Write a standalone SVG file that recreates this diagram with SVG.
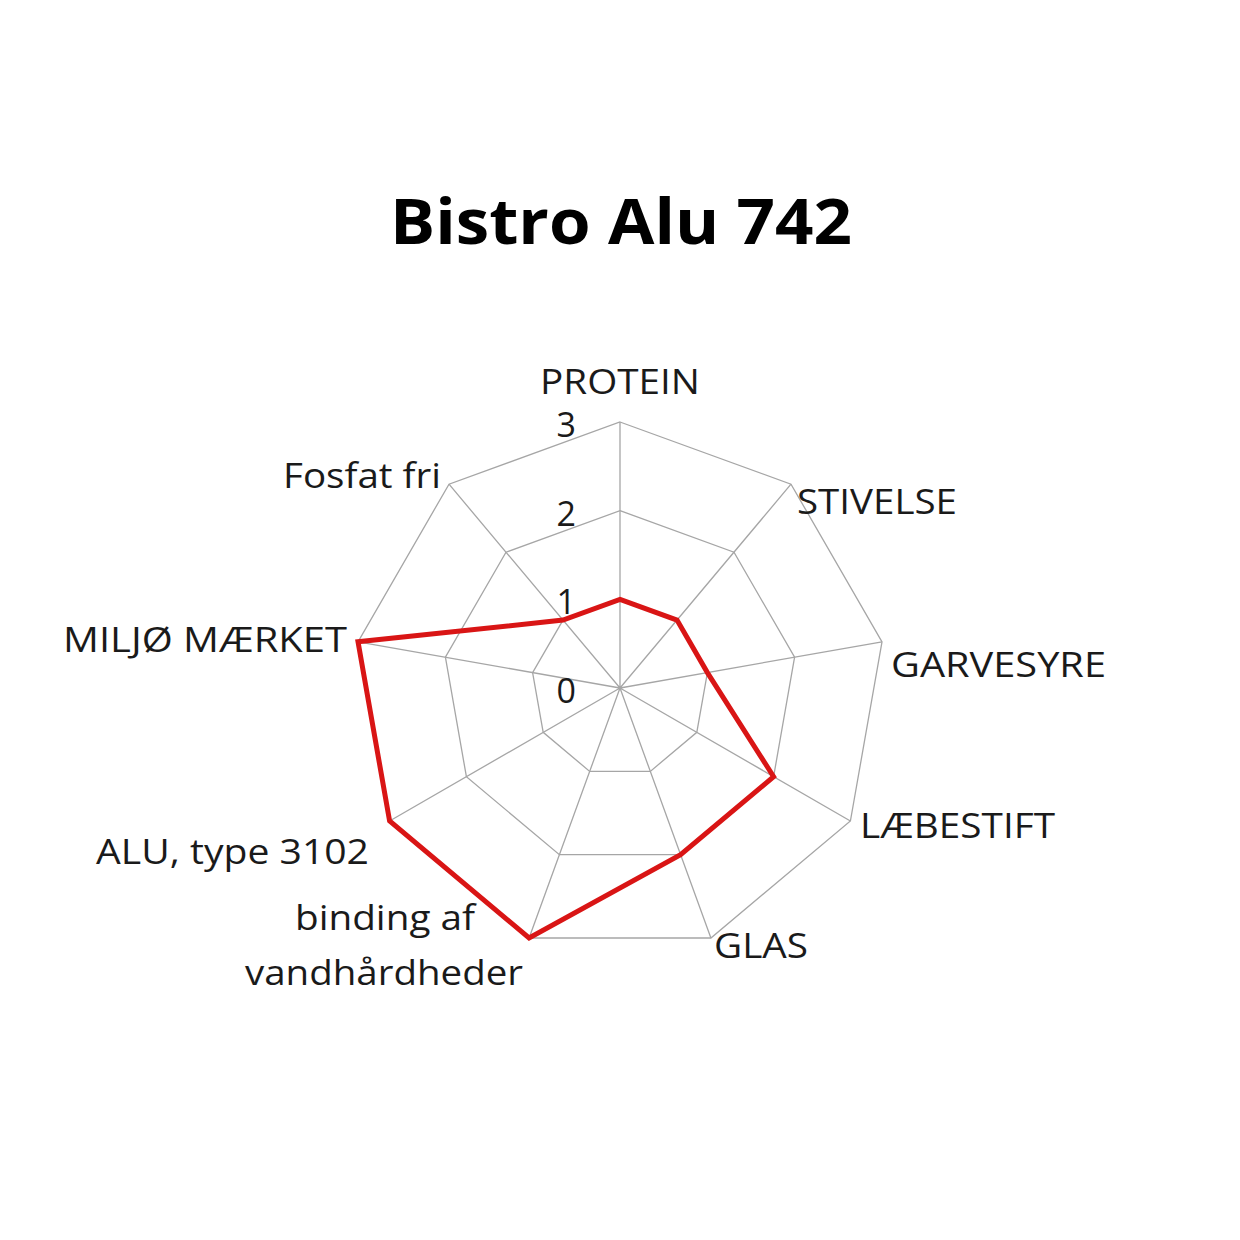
<svg xmlns="http://www.w3.org/2000/svg" width="1240" height="1240" viewBox="0 0 1240 1240">
<style>
.g{fill:none;stroke:#a6a6a6;stroke-width:1.3}
.t{font-family:"Open Sans","Liberation Sans",sans-serif;font-size:34px;fill:#1a1a1a}
</style>
<rect width="1240" height="1240" fill="#fff"/>
<text x="390" y="244" textLength="462" lengthAdjust="spacingAndGlyphs" font-family="'Open Sans','Liberation Sans',sans-serif" font-weight="bold" font-size="62" fill="#000">Bistro Alu 742</text>
<g id="grid">
<polygon class="g" points="620,599.3 677,620.1 707.4,672.6 696.8,732.3 650.3,771.4 589.7,771.4 543.2,732.3 532.6,672.6 563,620.1"/>
<polygon class="g" points="620,510.7 734,552.2 794.6,657.2 773.6,776.7 680.6,854.7 559.4,854.7 466.4,776.7 445.4,657.2 506,552.2"/>
<polygon class="g" points="620,422 791,484.2 882,641.8 850.4,821 710.9,938 529.1,938 389.6,821 358,641.8 449,484.2"/>
<path class="g" d="M620,688L620,422M620,688L791,484.2M620,688L882,641.8M620,688L850.4,821M620,688L710.9,938M620,688L529.1,938M620,688L389.6,821M620,688L358,641.8M620,688L449,484.2"/>
</g>
<g id="ticks" class="t" text-anchor="end">
<text x="576" y="437">3</text><text x="576" y="526">2</text><text x="576" y="614">1</text><text x="576" y="703">0</text>
</g>
<g id="series"><polygon points="620,599.3 677,620.1 707.4,672.6 773.6,776.7 680.6,854.7 529.1,938 389.6,821 358,641.8 563,620.1" fill="none" stroke="#d91515" stroke-width="5" stroke-linejoin="miter"/></g>
<g id="labels" class="t" lengthAdjust="spacingAndGlyphs">
<text x="540" y="394" textLength="160" lengthAdjust="spacingAndGlyphs">PROTEIN</text>
<text x="797" y="514" textLength="160" lengthAdjust="spacingAndGlyphs">STIVELSE</text>
<text x="891" y="677" textLength="215" lengthAdjust="spacingAndGlyphs">GARVESYRE</text>
<text x="860" y="838" textLength="195" lengthAdjust="spacingAndGlyphs">LÆBESTIFT</text>
<text x="714" y="958" textLength="94" lengthAdjust="spacingAndGlyphs">GLAS</text>
<text x="295" y="930" textLength="180" lengthAdjust="spacingAndGlyphs">binding af</text>
<text x="245" y="985" textLength="278" lengthAdjust="spacingAndGlyphs">vandhårdheder</text>
<text x="96" y="864" textLength="273" lengthAdjust="spacingAndGlyphs">ALU, type 3102</text>
<text x="63" y="652" textLength="284" lengthAdjust="spacingAndGlyphs">MILJØ MÆRKET</text>
<text x="283" y="488" textLength="158" lengthAdjust="spacingAndGlyphs">Fosfat fri</text>
</g>
</svg>
